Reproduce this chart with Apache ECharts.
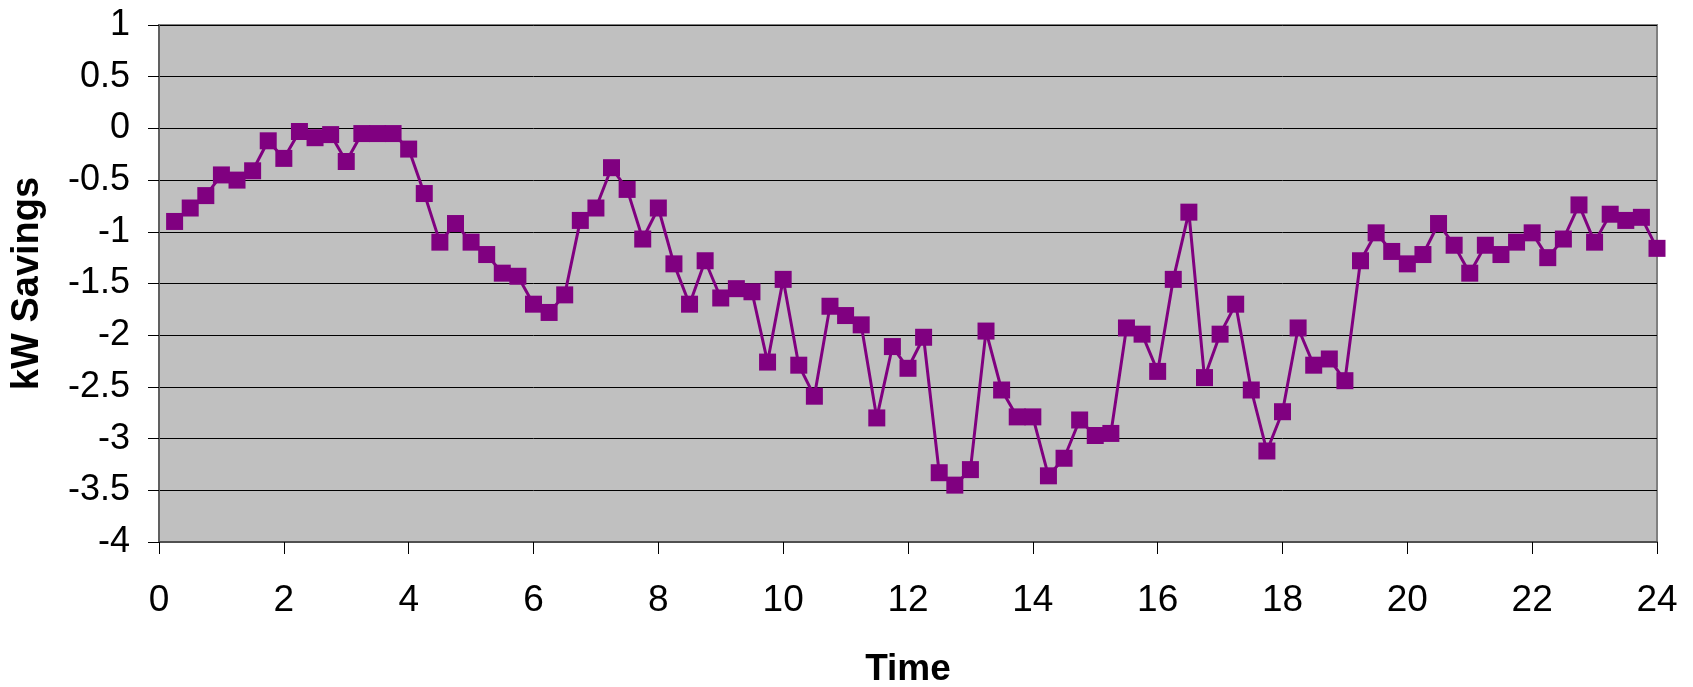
<!DOCTYPE html>
<html>
<head>
<meta charset="utf-8">
<script src="https://cdn.jsdelivr.net/npm/echarts@6/dist/echarts.min.js"></script>
<style>
  html, body { margin: 0; padding: 0; background: #ffffff; }
  #chart { width: 1693px; height: 687px; }
</style>
</head>
<body>
<div id="chart"></div>
<script>
// Time of day (hours), one reading every 15 minutes
const times = [
  0.25, 0.5, 0.75, 1, 1.25, 1.5, 1.75, 2, 2.25, 2.5, 2.75, 3,
  3.25, 3.5, 3.75, 4, 4.25, 4.5, 4.75, 5, 5.25, 5.5, 5.75, 6,
  6.25, 6.5, 6.75, 7, 7.25, 7.5, 7.75, 8, 8.25, 8.5, 8.75, 9,
  9.25, 9.5, 9.75, 10, 10.25, 10.5, 10.75, 11, 11.25, 11.5, 11.75, 12,
  12.25, 12.5, 12.75, 13, 13.25, 13.5, 13.75, 14, 14.25, 14.5, 14.75, 15,
  15.25, 15.5, 15.75, 16, 16.25, 16.5, 16.75, 17, 17.25, 17.5, 17.75, 18,
  18.25, 18.5, 18.75, 19, 19.25, 19.5, 19.75, 20, 20.25, 20.5, 20.75, 21,
  21.25, 21.5, 21.75, 22, 22.25, 22.5, 22.75, 23, 23.25, 23.5, 23.75, 24
];

// Demand savings in kW at each time
const savings = [
  -0.90, -0.77, -0.65, -0.45, -0.50, -0.41, -0.12, -0.29, -0.03, -0.09, -0.06, -0.32,
  -0.05, -0.05, -0.05, -0.20, -0.63, -1.10, -0.92, -1.10, -1.22, -1.40, -1.43, -1.70,
  -1.78, -1.61, -0.89, -0.77, -0.38, -0.59, -1.07, -0.77, -1.31, -1.70, -1.28, -1.64,
  -1.55, -1.58, -2.26, -1.46, -2.29, -2.59, -1.72, -1.81, -1.90, -2.80, -2.11, -2.32,
  -2.02, -3.33, -3.45, -3.30, -1.96, -2.53, -2.79, -2.79, -3.36, -3.19, -2.82, -2.97,
  -2.95, -1.93, -1.99, -2.35, -1.46, -0.81, -2.41, -1.99, -1.70, -2.53, -3.12, -2.74,
  -1.93, -2.29, -2.23, -2.44, -1.28, -1.01, -1.19, -1.31, -1.22, -0.92, -1.13, -1.40,
  -1.13, -1.22, -1.10, -1.01, -1.25, -1.07, -0.74, -1.10, -0.83, -0.89, -0.86, -1.16
];

const xTitle = 'Time';
const yTitle = 'kW Savings';

const fontFamily = '"Liberation Sans", Arial, sans-serif';

const chart = echarts.init(document.getElementById('chart'), null, { renderer: 'canvas' });

chart.setOption({
  animation: false,
  backgroundColor: '#ffffff',
  grid: {
    left: 159,
    right: 36,
    top: 25,
    bottom: 145,
    outerBoundsMode: 'none',
    containLabel: false,
    show: true,
    backgroundColor: '#C0C0C0',
    borderColor: '#808080',
    borderWidth: 2
  },
  xAxis: {
    type: 'value',
    min: 0,
    max: 24,
    interval: 2,
    name: xTitle,
    nameLocation: 'middle',
    nameGap: 109,
    nameTextStyle: { fontFamily, fontSize: 37, fontWeight: 'bold', color: '#000' },
    axisLine: { show: true, onZero: false, lineStyle: { color: '#505050', width: 2 } },
    axisTick: { show: true, inside: false, length: 12, lineStyle: { color: '#000', width: 1 } },
    axisLabel: { fontFamily, fontSize: 37, color: '#000', margin: 40 },
    splitLine: { show: false }
  },
  yAxis: {
    type: 'value',
    min: -4,
    max: 1,
    interval: 0.5,
    name: yTitle,
    nameLocation: 'middle',
    nameRotate: 90,
    nameGap: 112,
    nameTextStyle: { fontFamily, fontSize: 38, fontWeight: 'bold', color: '#000' },
    axisLine: { show: true, onZero: false, lineStyle: { color: '#606060', width: 2 } },
    axisTick: { show: true, inside: false, length: 11, lineStyle: { color: '#000', width: 1 } },
    axisLabel: { fontFamily, fontSize: 36, color: '#000', margin: 29 },
    splitLine: { show: true, lineStyle: { color: '#000', width: 1 } }
  },
  series: [{
    type: 'line',
    data: times.map((t, i) => [t, savings[i]]),
    symbol: 'rect',
    symbolSize: 17,
    showAllSymbol: true,
    lineStyle: { color: '#800080', width: 3 },
    itemStyle: { color: '#800080' },
    z: 5
  }]
});
</script>
</body>
</html>
